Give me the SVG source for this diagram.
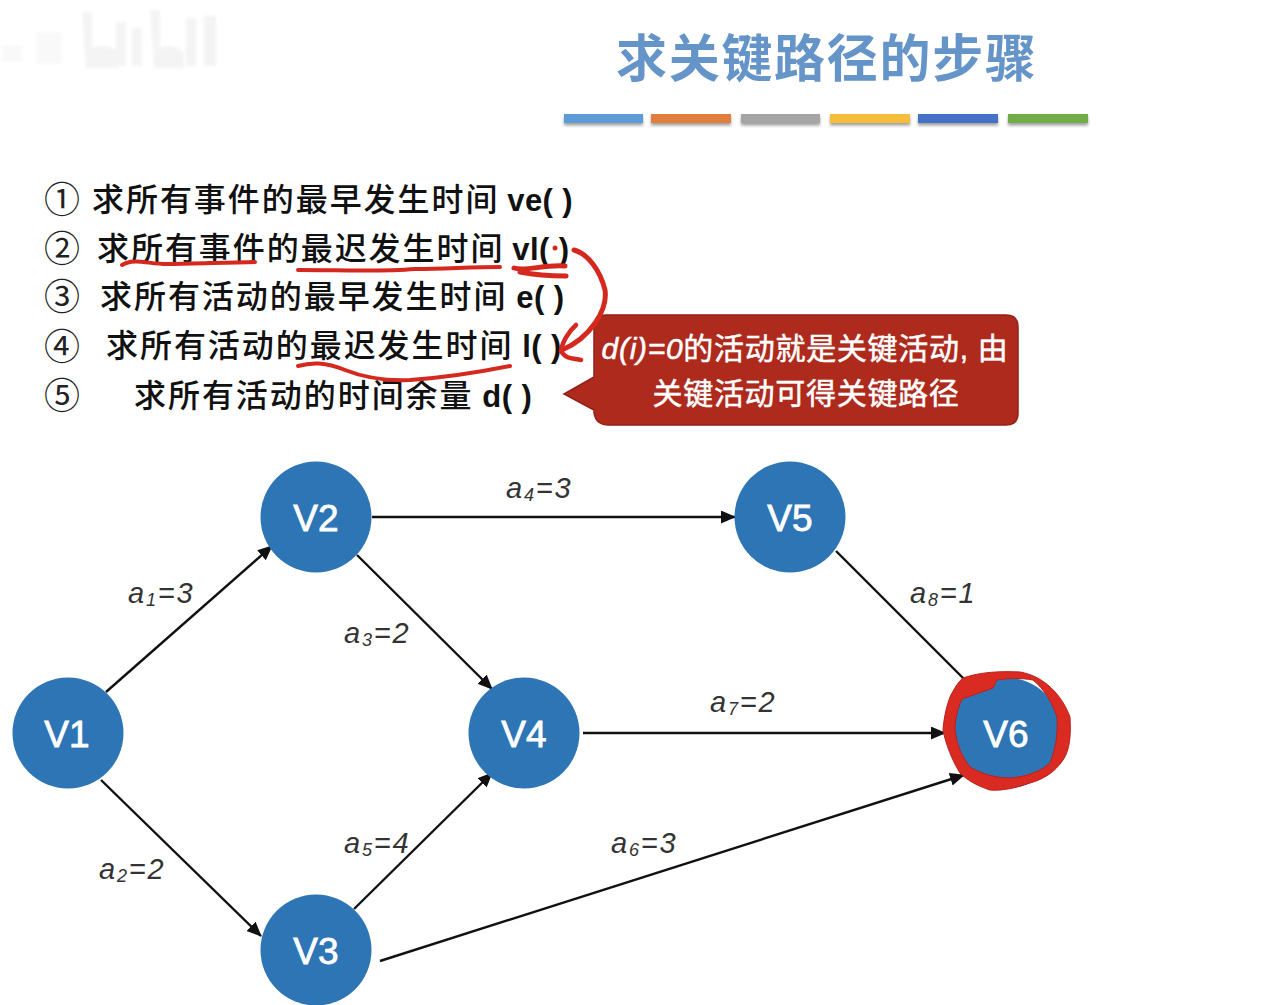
<svg xmlns="http://www.w3.org/2000/svg" width="1284" height="1005" viewBox="0 0 1284 1005">
<style>
.cn{font-family:"Liberation Sans","Noto Sans CJK SC",sans-serif}
.title{font-size:51px;fill:#6594c8;font-weight:700;letter-spacing:1.7px}
.li{font-size:32px;fill:#111;letter-spacing:1.95px;font-weight:500}
.latin{font-weight:700;letter-spacing:.4px;font-size:31px}
.num{font-size:36px;fill:#222}
.node circle{fill:#2e75b6}
.node text{font-family:"Liberation Sans",sans-serif;font-size:37px;fill:#fff;stroke:#fff;stroke-width:.8;text-anchor:middle}
.lb{font-family:"Liberation Sans",sans-serif;font-style:italic;font-size:29px;letter-spacing:1.800px;fill:#333}
.lb .s{font-size:18px}
.edge{stroke:#111;stroke-width:2.4;fill:none;marker-end:url(#ah)}
.plain{stroke:#111;stroke-width:2.4;fill:none}
.ink{stroke:#d5281f;fill:none;stroke-linecap:round;stroke-linejoin:round}
.call{font-size:30px;fill:#fff;stroke:#fff;stroke-width:.5;letter-spacing:.7px;text-anchor:middle}
.bar{height:9px}
</style>
<defs>
<marker id="ah" markerUnits="userSpaceOnUse" markerWidth="16" markerHeight="14" refX="14" refY="6.5" orient="auto"><path d="M0 0L15 6.5L0 13Z" fill="#111"/></marker>
<filter id="sh" x="-5%" y="-50%" width="110%" height="220%"><feDropShadow dx="0" dy="2.5" stdDeviation="1.5" flood-color="#777" flood-opacity=".7"/></filter>
<filter id="soft"><feGaussianBlur stdDeviation="1.5"/></filter>
</defs>
<rect width="1284" height="1005" fill="#fff"/>
<g id="watermark" fill="#f4f4f4" filter="url(#soft)">
<path d="M2 45H22V62H2Z M36 32H62V64H36Z" fill="#f9f9f9"/>
<path d="M82 12H92V48C100 44 112 46 118 52V68H86Z M116 22H126V66H116Z M132 28H142V66H132Z M150 10H160V48C168 44 178 46 184 52V68H154Z M186 18H196V66H186Z M204 16H216V66H204Z"/>
</g>
<g id="title">
<text class="cn title" x="616" y="77">求关键路径的步骤</text>
<g filter="url(#sh)">
<rect class="bar" x="564" y="114" width="79" fill="#5b9bd5"/>
<rect class="bar" x="651" y="114" width="80" fill="#e07f3e"/>
<rect class="bar" x="741" y="114" width="79" fill="#a5a5a5"/>
<rect class="bar" x="830" y="114" width="80" fill="#f6bd3c"/>
<rect class="bar" x="918" y="114" width="80" fill="#4472c4"/>
<rect class="bar" x="1008" y="114" width="80" fill="#70ad47"/>
</g>
</g>
<g id="steps" class="cn">
<text class="num" x="44" y="213">①</text>
<text class="li" x="92" y="211">求所有事件的最早发生时间 <tspan class="latin" dx="-3">ve( )</tspan></text>
<text class="num" x="44" y="262">②</text>
<text class="li" x="97" y="260">求所有事件的最迟发生时间 <tspan class="latin" dx="-3">vl( )</tspan></text>
<text class="num" x="44" y="310">③</text>
<text class="li" x="100" y="308">求所有活动的最早发生时间 <tspan class="latin" dx="-2">e( )</tspan></text>
<text class="num" x="44" y="360">④</text>
<text class="li" x="106" y="357">求所有活动的最迟发生时间 <tspan class="latin" dx="-2">l( )</tspan></text>
<text class="num" x="44" y="409">⑤</text>
<text class="li" x="134" y="407">求所有活动的时间余量 <tspan class="latin" dx="-2">d( )</tspan></text>
</g>
<g id="callout">
<path d="M606 315H1006Q1018 315 1018 327V413Q1018 425 1006 425H608Q596 425 594 413V410L564 394L594 377V327Q594 315 606 315Z" fill="#ad2a1d" stroke="#93211a" stroke-width="1.500"/>
<text class="cn call" x="805" y="359"><tspan font-style="italic">d(i)=0</tspan>的活动就是关键活动, 由</text>
<text class="cn call" x="806" y="404">关键活动可得关键路径</text>
</g>
<g id="connectors">
<line class="edge" x1="106" y1="692" x2="272" y2="546"/>
<line class="edge" x1="101" y1="780" x2="261" y2="936"/>
<line class="edge" x1="357" y1="555" x2="492" y2="689"/>
<line class="edge" x1="354" y1="909" x2="492" y2="773"/>
<line class="edge" x1="372" y1="517" x2="735" y2="517"/>
<line class="edge" x1="583" y1="733" x2="945" y2="733"/>
<line class="edge" x1="380" y1="961" x2="964" y2="775"/>
<line class="plain" x1="836" y1="551" x2="966" y2="681"/>
</g>
<g id="edge-labels">
<text class="lb" x="128" y="603">a<tspan class="s" dy="3">1</tspan><tspan dy="-3">=3</tspan></text>
<text class="lb" x="99" y="879">a<tspan class="s" dy="3">2</tspan><tspan dy="-3">=2</tspan></text>
<text class="lb" x="344" y="643">a<tspan class="s" dy="3">3</tspan><tspan dy="-3">=2</tspan></text>
<text class="lb" x="506" y="498">a<tspan class="s" dy="3">4</tspan><tspan dy="-3">=3</tspan></text>
<text class="lb" x="344" y="853">a<tspan class="s" dy="3">5</tspan><tspan dy="-3">=4</tspan></text>
<text class="lb" x="611" y="853">a<tspan class="s" dy="3">6</tspan><tspan dy="-3">=3</tspan></text>
<text class="lb" x="710" y="712">a<tspan class="s" dy="3">7</tspan><tspan dy="-3">=2</tspan></text>
<text class="lb" x="910" y="603">a<tspan class="s" dy="3">8</tspan><tspan dy="-3">=1</tspan></text>
</g>
<g id="V1" class="node"><circle cx="68" cy="733" r="55.500"/><text x="67" y="747">V1</text></g>
<g id="V2" class="node"><circle cx="316" cy="517" r="55.500"/><text x="316" y="531">V2</text></g>
<g id="V3" class="node"><circle cx="316" cy="950" r="55.500"/><text x="316" y="964">V3</text></g>
<g id="V4" class="node"><circle cx="524" cy="733" r="55.500"/><text x="524" y="747">V4</text></g>
<g id="V5" class="node"><circle cx="790" cy="517" r="55.500"/><text x="790" y="531">V5</text></g>
<g id="V6" class="node"><circle cx="1006" cy="733" r="55.500"/><text x="1006" y="747">V6</text>
<path fill="#d92b22" fill-rule="evenodd" stroke="#bb2018" stroke-width="1" d="M963 678C980 672 1000 671 1020 672C1044 676 1062 695 1070 717C1071 735 1070 750 1063 760C1055 772 1044 779 1030 783C1015 788 1003 791 990 790C978 786 968 781 960 773C952 760 946 745 943 730C944 716 947 705 950 697C954 689 958 682 963 678ZM997 680L993 688L962 699C957 710 955 720 955 730C957 745 962 757 970 767C982 774 995 778 1010 778C1025 777 1040 772 1050 763C1056 748 1058 733 1057 717C1052 702 1044 689 1033 680C1022 678 1010 678 997 680Z"/>
</g>
<g id="ink">
<path class="ink" stroke-width="4" d="M122 265C135 257 150 265 170 264C195 263 225 263 255 262"/>
<path class="ink" stroke-width="4" d="M298 270C340 270 380 272 415 269C445 269 470 267 500 267"/>
<path class="ink" stroke-width="5" d="M514 268C525 272 545 264 565 266M520 272C535 275 550 276 566 276"/>
<circle cx="555" cy="248" r="2.500" fill="#d5281f"/>
<path class="ink" stroke-width="5" d="M574 250C588 254 600 270 605 290C608 310 590 338 562 350"/>
<path class="ink" stroke-width="4.500" d="M576 325C568 332 562 343 561 351C566 360 574 358 581 360"/>
<path class="ink" stroke-width="4" d="M298 366C312 362 325 362 345 370C365 378 385 381 410 380C440 378 480 372 510 366"/>
</g>
</svg>
